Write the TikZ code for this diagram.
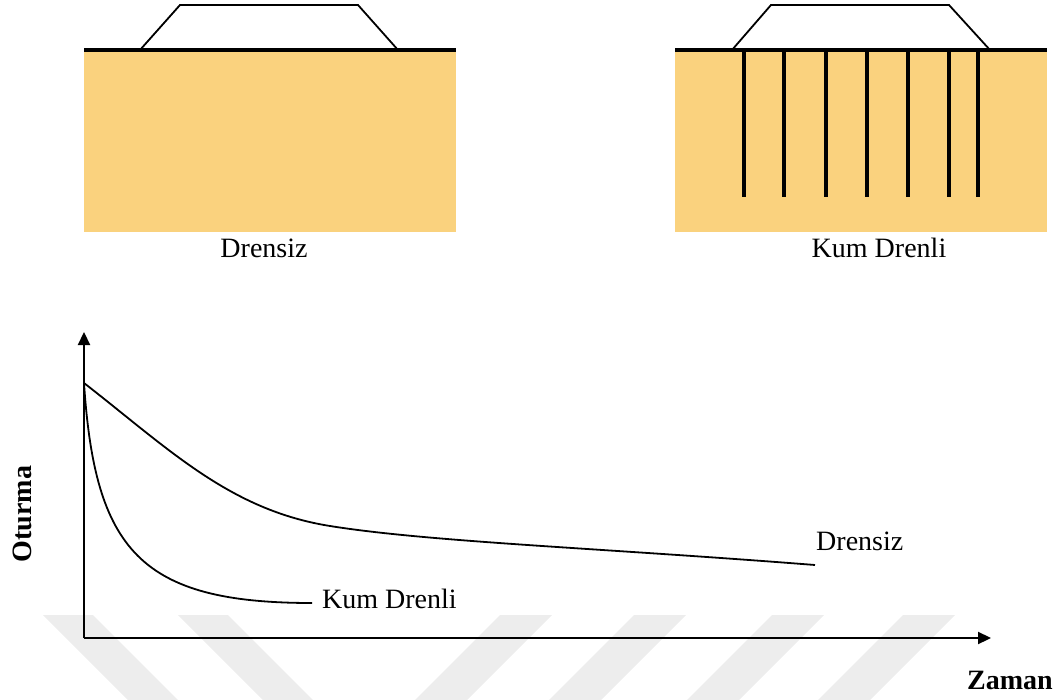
\documentclass[tikz,border=0pt]{standalone}
\usepackage{fontspec}
\setmainfont{Liberation Serif}
\usetikzlibrary{arrows.meta}
\definecolor{soil}{RGB}{250,210,126}
\definecolor{mark}{RGB}{237,237,237}
\begin{document}
\begin{tikzpicture}[x=1pt,y=-1pt,
  lbl/.style={font=\fontsize{28}{32}\selectfont, inner sep=0pt},
  axislbl/.style={font=\fontsize{28}{32}\selectfont\bfseries, inner sep=0pt},
  ground/.style={line width=4pt},
  embank/.style={line width=1.8pt, line join=miter},
  drain/.style={line width=4pt},
  axis/.style={line width=2.2pt, -{Triangle[length=13pt,width=12pt]}},
  curve/.style={line width=1.8pt},
  stripe/.style={fill=mark, draw=none}]
\useasboundingbox (0,0) rectangle (1054,700);

% faint stripes in the background
\foreach \a in {43,178}
  \fill[stripe] (\a,615) -- (\a+50,615) -- (\a+135,700) -- (\a+85,700) -- cycle;
\foreach \a in {500,634,772,903}
  \fill[stripe] (\a,615) -- (\a+52,615) -- (\a-33,700) -- (\a-85,700) -- cycle;

% --- soil without drains ---
\fill[soil] (84,50) rectangle (456,232);
\draw[ground] (84,50) -- (456,50);
\draw[embank] (140,50) -- (180,5) -- (358,5) -- (398,50);
\node[lbl] (t1) at (264,248) {Drensiz};

% --- soil with sand drains ---
\fill[soil] (675,50) rectangle (1047,232);
\foreach \x in {744,784,826,867,908,949,978}
  \draw[drain] (\x,50) -- (\x,197);
\draw[ground] (675,50) -- (1047,50);
\draw[embank] (732,50) -- (771,5) -- (949,5) -- (990,50);
\node[lbl] (t2) at (879,248) {Kum Drenli};

% --- settlement vs time ---
\coordinate (o) at (84,638);
\coordinate (ytop) at (84,332);
\coordinate (xend) at (991,638);
\draw[axis] (o) -- (ytop);
\draw[axis] (o) -- (xend);

\coordinate (s) at (84,383);
\coordinate (e1) at (815,565);
\coordinate (e2) at (312,603);
% slow consolidation
\draw[curve] (s) .. controls (170,450) and (230,510) .. (330,526)
                 .. controls (430,542) and (600,548) .. (e1);
% fast consolidation with drains
\draw[curve] (s) .. controls (95,550) and (140,603) .. (e2);

\node[lbl, anchor=west] (c1) at (816,541) {Drensiz};
\node[lbl, anchor=west] (c2) at (322,599) {Kum Drenli};

\node[axislbl, rotate=90] (ya) at (22,514) {Oturma};
\node[axislbl] (xa) at (1010,680) {Zaman};
\end{tikzpicture}
\end{document}
